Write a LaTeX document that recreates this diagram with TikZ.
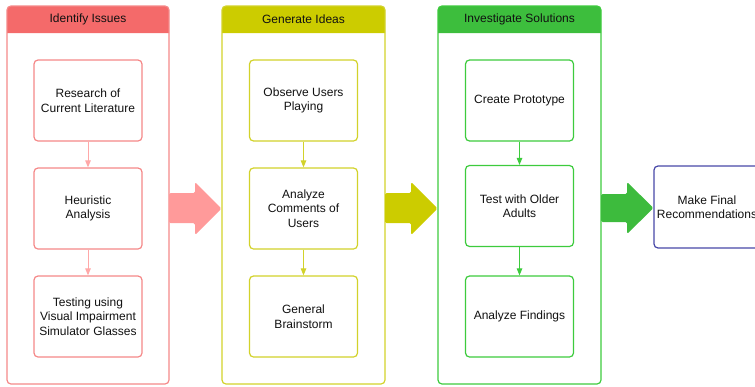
\documentclass[tikz,border=0pt]{standalone}
\usepackage{fontspec}
\setmainfont{Liberation Sans}
\usetikzlibrary{arrows.meta,calc}
\definecolor{redH}{HTML}{F46A6A}
\definecolor{redL}{HTML}{F58888}
\definecolor{redS}{HTML}{FFA8A8}
\definecolor{redA}{HTML}{FF9A9A}
\definecolor{yelH}{HTML}{CCCC00}
\definecolor{yelL}{HTML}{D2D22A}
\definecolor{yelA}{HTML}{CCCC00}
\definecolor{grnH}{HTML}{3DBE3D}
\definecolor{grnL}{HTML}{3DCB3D}
\definecolor{grnA}{HTML}{3DBB3D}
\definecolor{bluL}{HTML}{4848A8}
\definecolor{txt}{HTML}{111111}
\begin{document}
\begin{tikzpicture}[x=1pt,y=-1pt,
  font=\fontsize{12}{14.5}\selectfont, text=txt,
  lanebox/.style={draw, line width=1.2pt, rounded corners=4pt, minimum width=162pt, minimum height=378pt, inner sep=0pt},
  stepbox/.style={draw, line width=1.2pt, rounded corners=4pt, minimum width=108pt, minimum height=81pt, inner sep=1pt, align=center, fill=white},
  hdr/.style={font=\fontsize{12}{14}\selectfont},
  link/.style={line width=1pt, -{Triangle[length=7pt,width=5.5pt]}}
]
\useasboundingbox (0,0) rectangle (755,386);
\clip (0,0) rectangle (755,386);

% lanes
\fill[redH] (7,33) [rounded corners=4pt] -- (7,6) -- (169,6) [sharp corners] -- (169,33) -- cycle;
\fill[yelH] (222,33) [rounded corners=4pt] -- (222,6) -- (385,6) [sharp corners] -- (385,33) -- cycle;
\fill[grnH] (438,33) [rounded corners=4pt] -- (438,6) -- (601,6) [sharp corners] -- (601,33) -- cycle;
\node[lanebox, draw=redL] (L1) at (88,195) {};
\node[lanebox, draw=yelL, minimum width=163pt] (L2) at (303.5,195) {};
\node[lanebox, draw=grnL, minimum width=163pt] (L3) at (519.5,195) {};
\node[hdr] (H1) at (88,19) {Identify Issues};
\node[hdr] (H2) at (303.5,19) {Generate Ideas};
\node[hdr] (H3) at (519.5,19) {Investigate Solutions};

% steps lane 1
\node[stepbox, draw=redL] (A1) at (88,100.5) {Research of\\Current Literature};
\node[stepbox, draw=redL] (A2) at (88,208.5) {Heuristic\\Analysis};
\node[stepbox, draw=redL] (A3) at (88,316.5) {Testing using\\Visual Impairment\\Simulator Glasses};
% steps lane 2
\node[stepbox, draw=yelL] (B1) at (303.5,100.5) {Observe Users\\Playing};
\node[stepbox, draw=yelL] (B2) at (303.5,208.5) {Analyze\\Comments of\\Users};
\node[stepbox, draw=yelL] (B3) at (303.5,316.5) {General\\Brainstorm};
% steps lane 3
\node[stepbox, draw=grnL] (C1) at (519.5,100.5) {Create Prototype};
\node[stepbox, draw=grnL] (C2) at (519.5,206) {Test with Older\\Adults};
\node[stepbox, draw=grnL] (C3) at (519.5,316.5) {Analyze Findings};
% final
\node[stepbox, draw=bluL, minimum width=106pt, minimum height=82pt] (F) at (707,207) {Make Final\\Recommendations};

% small links
\draw[link, redS] (A1) -- (A2);
\draw[link, redS] (A2) -- (A3);
\draw[link, yelL] (B1) -- (B2);
\draw[link, yelL] (B2) -- (B3);
\draw[link, grnL] (C1) -- (C2);
\draw[link, grnL] (C2) -- (C3);

% big arrows
\fill[redA, rounded corners=1.5pt] (169,193) -- (195,193) -- (195,182) -- (221.5,208.5) -- (195,235) -- (195,223) -- (169,223) -- cycle;
\fill[yelA, rounded corners=1.5pt] (385,193) -- (411,193) -- (411,182) -- (437.5,208.5) -- (411,235) -- (411,223) -- (385,223) -- cycle;
\fill[grnA, rounded corners=1.5pt] (601,194) -- (627,194) -- (627,182) -- (653.5,208) -- (627,234) -- (627,222) -- (601,222) -- cycle;
\end{tikzpicture}
\end{document}
